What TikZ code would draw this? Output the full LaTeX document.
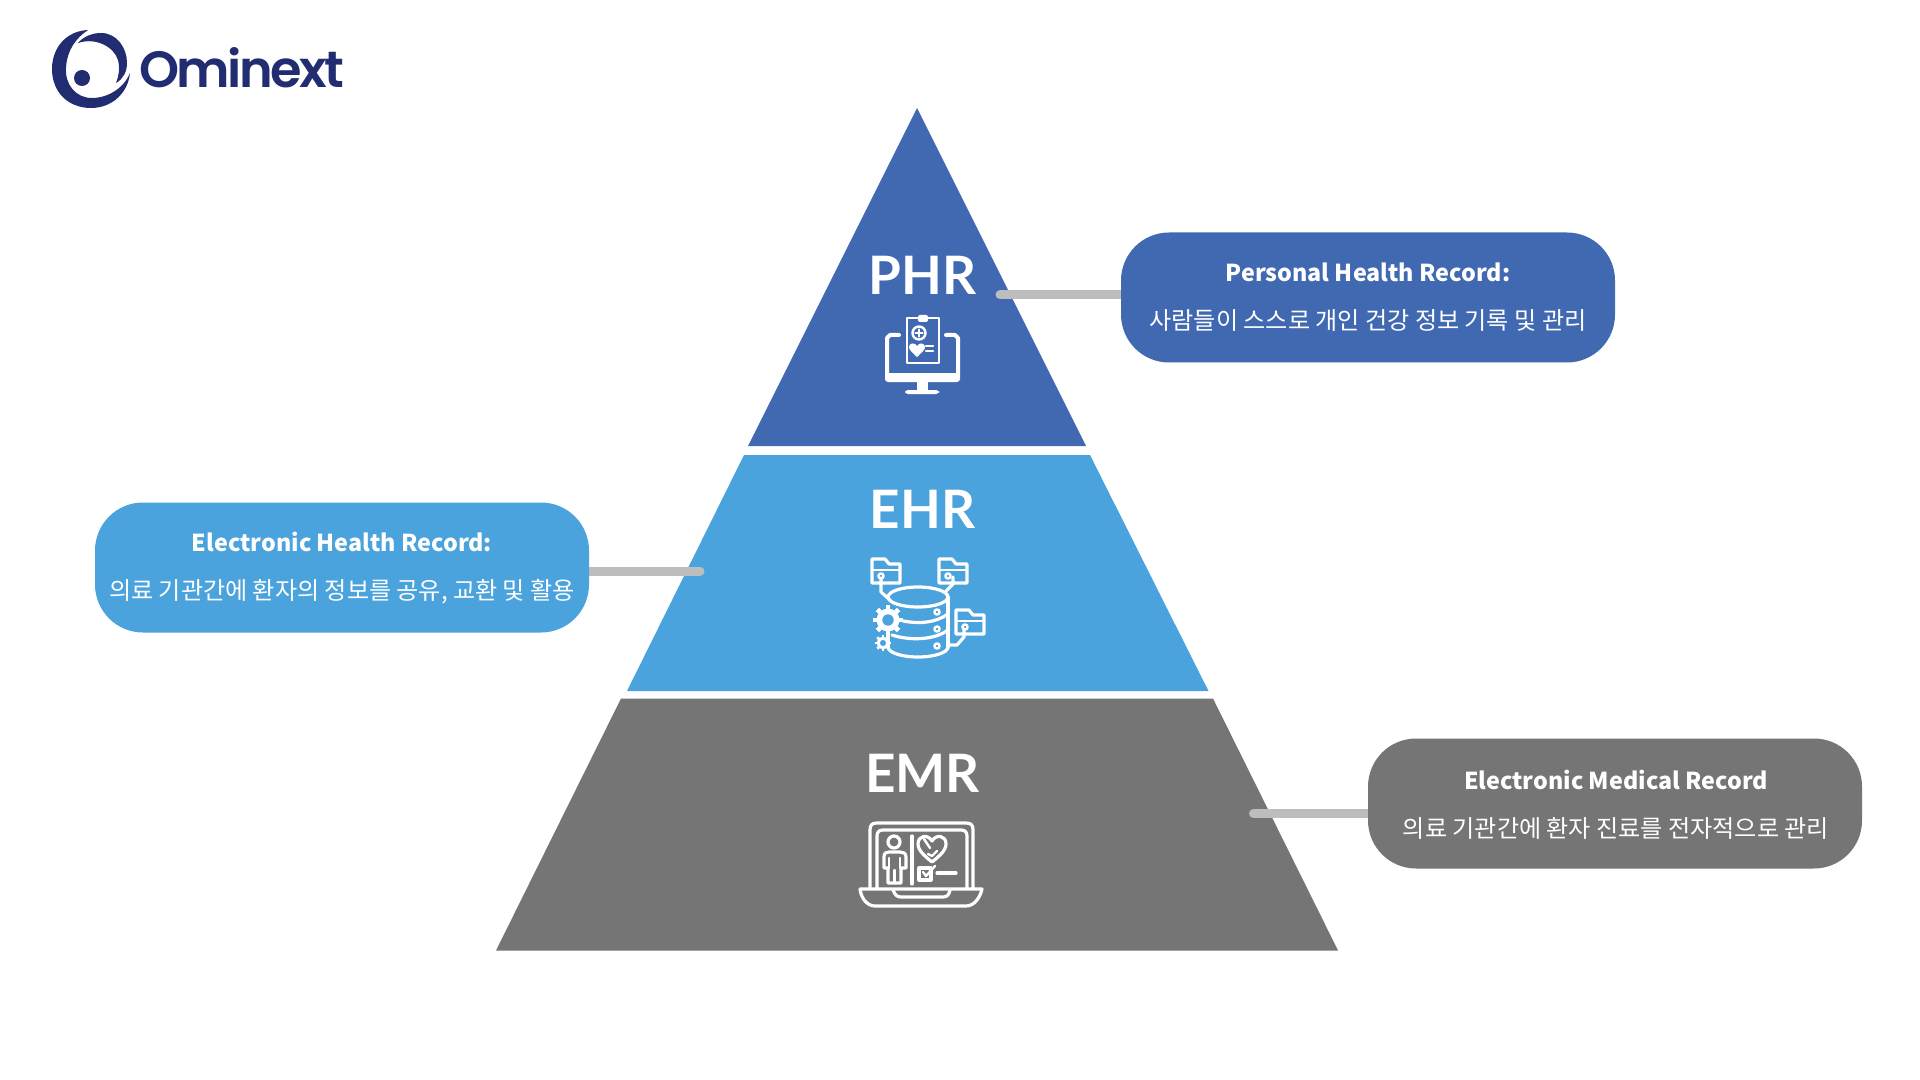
\documentclass[tikz,border=0pt]{standalone}
\usepackage{fontspec}
\usetikzlibrary{backgrounds}
\newfontfamily\krfont{Noto Sans CJK KR}
\newfontfamily\latofont{Lato}
\newfontfamily\logofont[LetterSpace=-5]{Poppins SemiBold}
\definecolor{phrcol}{HTML}{4169B2}
\definecolor{ehrcol}{HTML}{4BA3DD}
\definecolor{emrcol}{HTML}{757575}
\definecolor{linkcol}{HTML}{BDBDBD}
\definecolor{logocol}{HTML}{222D71}
\tikzset{
  x=0.5pt,y=-0.5pt,
  infobox/.style={rounded corners=24pt,minimum width=247pt,minimum height=65pt,inner sep=0pt,text width=0pt},
  heading/.style={text=white,inner sep=0pt,anchor=center,font=\krfont\bfseries\fontsize{11.65}{13}\selectfont},
  subtext/.style={text=white,inner sep=0pt,anchor=center,font=\krfont\fontsize{12.05}{14}\selectfont},
  tierlabel/.style={text=white,inner sep=0pt,anchor=base,font=\latofont\bfseries\fontsize{26.5}{30}\selectfont},
  link/.style={draw=linkcol,line width=4.5pt,line cap=round},
  iconline/.style={draw=white,line width=1.6pt,line cap=round,line join=round},
  iconthin/.style={draw=white,line width=1.2pt,line cap=round,line join=round},
}
\newcommand{\folderat}[2]{%
  \begin{scope}[shift={(#1,#2)}]
    \draw[iconline] (0,0) -- (13,0) -- (17,5) -- (28,5) -- (28,24) -- (0,24) -- cycle;
    \draw[iconthin] (0,11) -- (28,11);
    \draw[iconthin,fill=ehrcol] (9,17) circle[radius=2.6];
  \end{scope}}
\newcommand{\gearat}[4]{%
  \foreach \a in {0,45,...,315}
    \draw[draw=white,line width=#4,line cap=butt] (#1,#2) -- ++(\a:#3);
  \fill[white] (#1,#2) circle[radius=#3*0.76];
  \fill[ehrcol] (#1,#2) circle[radius=#3*0.38];}
\begin{document}
\begin{tikzpicture}
\useasboundingbox (0,0) rectangle (1920,1080);
% logo
\fill[logocol] (88,30) .. controls (66,31) and (52,48) .. (52,69)
  .. controls (52,92) and (68,108) .. (91,108)
  .. controls (112,108) and (128,93) .. (130,73)
  .. controls (124,88) and (108,98) .. (92,98)
  .. controls (76,98) and (65,85) .. (66,68)
  .. controls (67,50) and (76,38) .. (88,30) -- cycle;
\fill[logocol] (78,43) .. controls (84,36) and (93,33) .. (101,33)
  .. controls (117,33) and (127,48) .. (127,63)
  .. controls (127,72) and (123,79) .. (116,83)
  .. controls (119,76) and (120,68) .. (118,60)
  .. controls (114,47) and (96,37) .. (78,43) -- cycle;
\fill[logocol] (82,78) circle[radius=8];
\node[text=logocol,anchor=base west,inner sep=0pt,font=\logofont\fontsize{25.5}{30}\selectfont] (logotext) at (139,88) {Ominext};
% info boxes
\node[infobox,fill=phrcol] (phrbox) at (1368,297.5) {};
\node[infobox,fill=ehrcol] (ehrbox) at (342,567.5) {};
\node[infobox,fill=emrcol] (emrbox) at (1615,803.5) {};
\node[heading] (phrhead) at (1368,272) {Personal Health Record:};
\node[subtext] (phrsub) at (1368,320) {사람들이 스스로 개인 건강 정보 기록 및 관리};
\node[heading] (ehrhead) at (342,541.5) {Electronic Health Record:};
\node[subtext] (ehrsub) at (342,591.5) {의료 기관간에 환자의 정보를 공유, 교환 및 활용};
\node[heading] (emrhead) at (1616,780) {Electronic Medical Record};
\node[subtext] (emrsub) at (1616,828) {의료 기관간에 환자 진료를 전자적으로 관리};
% link ends
\coordinate (phrend) at (1000,295);
\coordinate (ehrend) at (700,571);
\coordinate (emrend) at (1253.5,813.5);
\begin{scope}[on background layer]
  \fill[phrcol] (917,108) -- (1086,446) -- (748,446) -- cycle;
  \fill[ehrcol] (744,455) -- (1090,455) -- (1208.5,691) -- (627,691) -- cycle;
  \fill[emrcol] (621,698.5) -- (1213,698.5) -- (1338,950.5) -- (496,950.5) -- cycle;
  \draw[link] (phrend) -- (phrend -| phrbox.center);
  \draw[link] (ehrend) -- (ehrend -| ehrbox.center);
  \draw[link] (emrend) -- (emrend -| emrbox.center);
\end{scope}
% tier labels
\node[tierlabel] (phrlabel) at (922.5,295) {PHR};
\node[tierlabel] (ehrlabel) at (922.5,528) {EHR};
\node[tierlabel] (emrlabel) at (922.5,792.5) {EMR};
% PHR icon
\draw[iconline,line width=2pt] (899,335) -- (890,335) -- (887,338) -- (887,376);
\draw[iconline,line width=2pt] (946,335) -- (955,335) -- (958,338) -- (958,376);
\fill[white,rounded corners=1.5pt] (885,373) rectangle (960,382);
\fill[white] (917,382) rectangle (928,391);
\fill[white,rounded corners=1.5pt] (905,390) rectangle (939,394);
\draw[iconline,line width=1.2pt] (907,318) rectangle (939,363);
\fill[white,rounded corners=1pt] (918,315) rectangle (928,322);
\draw[iconline,line width=1.2pt] (919,333) circle[radius=6.5];
\draw[iconline,line width=1.1pt] (915.5,333) -- (922.5,333) (919,329.5) -- (919,336.5);
\fill[white] (917,357) .. controls (912,352) and (909,350) .. (909,347)
  .. controls (909,343) and (915,342) .. (917,346)
  .. controls (919,342) and (925,343) .. (925,347)
  .. controls (925,350) and (922,352) .. (917,357) -- cycle;
\draw[iconthin] (926,346) -- (933,346) (926,351) -- (933,351);
% EHR icon
\folderat{872}{559}
\folderat{939}{559}
\folderat{956}{610}
\draw[iconline] (881,578) -- (881,592) -- (890,600);
\draw[iconline] (953,577) -- (953,584) -- (946,591);
\draw[iconline] (964,629) -- (964,637) -- (957,645) -- (949,645);
\draw[iconline] (888,597) arc[start angle=180,end angle=-180,x radius=30,y radius=10];
\draw[iconline] (948,597) -- (948,647);
\draw[iconline] (948,647) arc[start angle=0,end angle=180,x radius=30,y radius=10];
\draw[iconline] (888,636) -- (888,647);
\draw[iconline] (948,614) .. controls (935,623) and (920,624) .. (903,621);
\draw[iconline] (948,630) .. controls (935,640) and (910,641) .. (892,635);
\draw[iconthin] (937,612) circle[radius=2.6] (937,629) circle[radius=2.6] (937,646) circle[radius=2.6];
\gearat{888}{620}{15}{2.4pt}
\gearat{883}{643}{8}{1.4pt}
% EMR icon
\draw[iconline] (870,888) -- (870,830) .. controls (870,825) and (872,823) .. (877,823)
  -- (966,823) .. controls (971,823) and (973,825) .. (973,830) -- (973,888);
\draw[iconline] (877,888) -- (877,836) .. controls (877,832) and (879,830) .. (883,830)
  -- (961,830) .. controls (965,830) and (967,832) .. (967,836) -- (967,888);
\draw[iconline] (860,889) -- (982,889) .. controls (980,898) and (974,906) .. (966,906)
  -- (875,906) .. controls (867,906) and (861,898) .. (860,889) -- cycle;
\draw[iconline] (893,890) .. controls (895,895) and (897,897) .. (901,897) -- (943,897)
  .. controls (947,897) and (949,895) .. (950,890);
\draw[iconline] (894,842) circle[radius=6];
\draw[iconline] (884,868) -- (884,857) .. controls (884,853) and (886,852) .. (889,852)
  -- (900,852) .. controls (903,852) and (906,853) .. (906,857) -- (906,868)
  -- (901,868) -- (901,883) -- (888,883) -- (888,868) -- cycle;
\draw[iconthin] (889,858) -- (889,868) (900,858) -- (900,868) (894.5,870) -- (894.5,883);
\draw[iconline] (912,836) -- (912,884);
\draw[iconline] (932,862) .. controls (926,857) and (918,851) .. (918,844)
  .. controls (918,835) and (928,834) .. (932,841)
  .. controls (936,834) and (946,835) .. (946,844)
  .. controls (946,851) and (938,857) .. (932,862) -- cycle;
\draw[iconthin] (924,839) -- (930,848) (928,854) -- (932,856) -- (937,851);
\draw[iconline] (919,868) rectangle (931,880);
\draw[iconthin] (923,872) -- (926,876) -- (935,866);
\draw[iconline] (937,873) -- (956,873);
\end{tikzpicture}
\end{document}
